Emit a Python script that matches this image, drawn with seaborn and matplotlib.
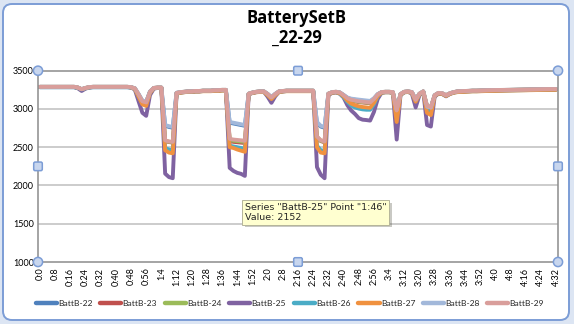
import matplotlib
matplotlib.use("Agg")
import matplotlib.pyplot as plt
import matplotlib.patches as mpatches
import matplotlib.patheffects as pe
from matplotlib.transforms import IdentityTransform
import numpy as np
import pandas as pd
import seaborn as sns

# ---------------- data (2-minute samples, 0:0 .. 4:32) ----------------
minutes = list(range(0, 273, 2))
time_labels = [f"{m // 60}:{m % 60}" for m in minutes]

series_names = ["BattB-22", "BattB-23", "BattB-24", "BattB-25",
                "BattB-26", "BattB-27", "BattB-28", "BattB-29"]

batt_22 = [
    3288, 3288, 3288, 3288, 3288, 3288, 3288, 3288, 3288, 3288,
    3278, 3258, 3273, 3283, 3288, 3288, 3288, 3288, 3288, 3288,
    3288, 3288, 3288, 3288, 3283, 3270, 3192, 3105, 3090, 3226,
    3273, 3278, 3278, 2780, 2765, 2755, 3210, 3218, 3223, 3228,
    3228, 3233, 3233, 3238, 3238, 3238, 3243, 3243, 3248, 3248,
    2820, 2810, 2800, 2790, 2780, 3198, 3213, 3223, 3228, 3228,
    3196, 3152, 3196, 3228, 3233, 3238, 3238, 3238, 3238, 3238,
    3238, 3238, 3238, 2815, 2770, 2755, 3198, 3218, 3223, 3215,
    3182, 3145, 3128, 3120, 3112, 3106, 3100, 3096, 3135, 3192,
    3218, 3223, 3223, 3218, 2980, 3193, 3223, 3228, 3220, 3120,
    3198, 3228, 3025, 3012, 3178, 3208, 3203, 3178, 3203, 3218,
    3228, 3230, 3233, 3235, 3238, 3238, 3240, 3242, 3243, 3244,
    3246, 3247, 3248, 3249, 3250, 3251, 3252, 3253, 3253, 3254,
    3255, 3256, 3256, 3257, 3258, 3258, 3258,
]
batt_23 = [
    3288, 3288, 3288, 3288, 3288, 3288, 3288, 3288, 3288, 3288,
    3278, 3255, 3272, 3283, 3288, 3288, 3288, 3288, 3288, 3288,
    3288, 3288, 3288, 3288, 3283, 3265, 3180, 3090, 3080, 3220,
    3272, 3278, 3278, 2580, 2568, 2560, 3205, 3217, 3222, 3227,
    3227, 3232, 3232, 3237, 3237, 3237, 3242, 3242, 3247, 3247,
    2580, 2570, 2565, 2560, 2555, 3197, 3212, 3222, 3227, 3227,
    3190, 3145, 3190, 3227, 3232, 3237, 3237, 3237, 3237, 3237,
    3237, 3237, 3237, 2630, 2580, 2565, 3197, 3217, 3222, 3212,
    3175, 3135, 3112, 3100, 3090, 3085, 3080, 3078, 3120, 3185,
    3217, 3222, 3222, 3217, 2970, 3190, 3222, 3227, 3217, 3115,
    3197, 3227, 3030, 3015, 3175, 3207, 3202, 3177, 3202, 3217,
    3227, 3229, 3232, 3234, 3237, 3237, 3239, 3241, 3242, 3243,
    3245, 3246, 3247, 3248, 3249, 3250, 3251, 3252, 3252, 3253,
    3254, 3255, 3255, 3256, 3257, 3257, 3257,
]
batt_24 = [
    3289, 3289, 3289, 3289, 3289, 3289, 3289, 3289, 3289, 3289,
    3279, 3257, 3274, 3284, 3289, 3289, 3289, 3289, 3289, 3289,
    3289, 3289, 3289, 3289, 3284, 3268, 3186, 3095, 3082, 3222,
    3274, 3279, 3279, 2585, 2572, 2565, 3208, 3219, 3224, 3229,
    3229, 3234, 3234, 3239, 3239, 3239, 3244, 3244, 3249, 3249,
    2595, 2585, 2580, 2575, 2570, 3199, 3214, 3224, 3229, 3229,
    3193, 3148, 3193, 3229, 3234, 3239, 3239, 3239, 3239, 3239,
    3239, 3239, 3239, 2635, 2585, 2570, 3199, 3219, 3224, 3214,
    3178, 3138, 3116, 3105, 3095, 3090, 3085, 3082, 3125, 3188,
    3219, 3224, 3224, 3219, 2975, 3193, 3224, 3229, 3219, 3118,
    3199, 3229, 3035, 3020, 3178, 3209, 3204, 3179, 3204, 3219,
    3229, 3231, 3234, 3236, 3239, 3239, 3241, 3243, 3244, 3245,
    3247, 3248, 3249, 3250, 3251, 3252, 3253, 3254, 3254, 3255,
    3256, 3257, 3257, 3258, 3259, 3259, 3259,
]
batt_25 = [
    3285, 3285, 3285, 3285, 3285, 3285, 3285, 3285, 3285, 3285,
    3270, 3235, 3265, 3280, 3285, 3285, 3285, 3285, 3285, 3285,
    3285, 3285, 3285, 3285, 3280, 3255, 3100, 2950, 2910, 3180,
    3265, 3275, 3275, 2155, 2110, 2095, 3200, 3215, 3220, 3225,
    3225, 3230, 3230, 3235, 3235, 3235, 3240, 3240, 3245, 3245,
    2230, 2190, 2165, 2152, 2125, 3190, 3210, 3220, 3225, 3225,
    3160, 3080, 3165, 3225, 3230, 3235, 3235, 3235, 3235, 3235,
    3235, 3235, 3235, 2240, 2140, 2095, 3180, 3210, 3215, 3200,
    3150, 3050, 2980, 2935, 2880, 2860, 2855, 2848, 2960, 3130,
    3210, 3220, 3220, 3210, 2600, 3180, 3220, 3225, 3200, 3020,
    3180, 3225, 2790, 2770, 3160, 3200, 3195, 3165, 3195, 3215,
    3225, 3227, 3230, 3232, 3235, 3235, 3237, 3239, 3240, 3241,
    3243, 3244, 3245, 3246, 3247, 3248, 3249, 3250, 3250, 3251,
    3252, 3253, 3253, 3254, 3255, 3255, 3255,
]
batt_26 = [
    3284, 3284, 3284, 3284, 3284, 3284, 3284, 3284, 3284, 3284,
    3276, 3255, 3270, 3280, 3284, 3284, 3284, 3284, 3284, 3284,
    3284, 3284, 3284, 3284, 3280, 3262, 3165, 3075, 3060, 3212,
    3270, 3275, 3275, 2490, 2470, 2460, 3202, 3214, 3220, 3226,
    3226, 3230, 3230, 3234, 3234, 3234, 3238, 3238, 3242, 3242,
    2520, 2510, 2500, 2490, 2480, 3196, 3210, 3220, 3224, 3224,
    3182, 3135, 3182, 3224, 3230, 3234, 3234, 3234, 3234, 3234,
    3234, 3234, 3234, 2520, 2460, 2450, 3192, 3214, 3220, 3200,
    3155, 3095, 3045, 3020, 3005, 2995, 2990, 2990, 3060, 3165,
    3212, 3218, 3218, 3210, 2900, 3185, 3218, 3222, 3210, 3100,
    3190, 3222, 2980, 2960, 3172, 3204, 3198, 3172, 3198, 3214,
    3222, 3224, 3227, 3229, 3232, 3232, 3234, 3236, 3237, 3238,
    3240, 3241, 3242, 3243, 3244, 3245, 3246, 3247, 3247, 3248,
    3249, 3250, 3250, 3251, 3252, 3252, 3252,
]
batt_27 = [
    3288, 3288, 3288, 3288, 3288, 3288, 3288, 3288, 3288, 3288,
    3278, 3258, 3272, 3283, 3288, 3288, 3288, 3288, 3288, 3288,
    3288, 3288, 3288, 3288, 3282, 3262, 3160, 3060, 3040, 3210,
    3270, 3276, 3276, 2460, 2430, 2420, 3200, 3212, 3218, 3224,
    3224, 3228, 3228, 3232, 3232, 3232, 3236, 3236, 3240, 3240,
    2500, 2490, 2470, 2455, 2440, 3195, 3208, 3218, 3222, 3222,
    3180, 3130, 3180, 3222, 3228, 3232, 3232, 3232, 3232, 3232,
    3232, 3232, 3232, 2500, 2430, 2420, 3190, 3212, 3218, 3205,
    3165, 3110, 3070, 3050, 3035, 3025, 3020, 3015, 3080, 3170,
    3212, 3218, 3218, 3210, 2830, 3185, 3218, 3222, 3210, 3095,
    3190, 3222, 2950, 2920, 3170, 3202, 3196, 3170, 3196, 3212,
    3220, 3222, 3225, 3227, 3230, 3230, 3232, 3234, 3235, 3236,
    3238, 3239, 3240, 3241, 3242, 3243, 3244, 3245, 3245, 3246,
    3247, 3248, 3248, 3249, 3250, 3250, 3250,
]
batt_28 = [
    3290, 3290, 3290, 3290, 3290, 3290, 3290, 3290, 3290, 3290,
    3280, 3260, 3275, 3285, 3290, 3290, 3290, 3290, 3290, 3290,
    3290, 3290, 3290, 3290, 3285, 3272, 3195, 3110, 3095, 3228,
    3275, 3280, 3280, 2790, 2775, 2765, 3212, 3220, 3225, 3230,
    3230, 3235, 3235, 3240, 3240, 3240, 3245, 3245, 3250, 3250,
    2830, 2820, 2810, 2800, 2790, 3200, 3215, 3225, 3230, 3230,
    3198, 3155, 3198, 3230, 3235, 3240, 3240, 3240, 3240, 3240,
    3240, 3240, 3240, 2830, 2780, 2765, 3200, 3220, 3225, 3218,
    3185, 3150, 3135, 3128, 3122, 3116, 3110, 3105, 3140, 3195,
    3220, 3225, 3225, 3220, 2990, 3195, 3225, 3230, 3222, 3125,
    3200, 3230, 3030, 3018, 3180, 3210, 3205, 3180, 3205, 3220,
    3230, 3232, 3235, 3237, 3240, 3240, 3242, 3244, 3245, 3246,
    3248, 3249, 3250, 3251, 3252, 3253, 3254, 3255, 3255, 3256,
    3257, 3258, 3258, 3259, 3260, 3260, 3260,
]
batt_29 = [
    3290, 3290, 3290, 3290, 3290, 3290, 3290, 3290, 3290, 3290,
    3280, 3258, 3275, 3285, 3290, 3290, 3290, 3290, 3290, 3290,
    3290, 3290, 3290, 3290, 3285, 3270, 3190, 3100, 3085, 3225,
    3275, 3280, 3280, 2590, 2575, 2570, 3210, 3220, 3225, 3230,
    3230, 3235, 3235, 3240, 3240, 3240, 3245, 3245, 3250, 3250,
    2610, 2600, 2595, 2590, 2585, 3200, 3215, 3225, 3230, 3230,
    3195, 3150, 3195, 3230, 3235, 3240, 3240, 3240, 3240, 3240,
    3240, 3240, 3240, 2640, 2590, 2575, 3200, 3220, 3225, 3215,
    3180, 3140, 3120, 3110, 3100, 3095, 3090, 3085, 3130, 3190,
    3220, 3225, 3225, 3220, 2980, 3195, 3225, 3230, 3220, 3120,
    3200, 3230, 3040, 3025, 3180, 3210, 3205, 3180, 3205, 3220,
    3230, 3232, 3235, 3237, 3240, 3240, 3242, 3244, 3245, 3246,
    3248, 3249, 3250, 3251, 3252, 3253, 3254, 3255, 3255, 3256,
    3257, 3258, 3258, 3259, 3260, 3260, 3260,
]

tick_labels = ["0:0", "0:8", "0:16", "0:24", "0:32", "0:40", "0:48", "0:56",
               "1:4", "1:12", "1:20", "1:28", "1:36", "1:44", "1:52", "2:0",
               "2:8", "2:16", "2:24", "2:32", "2:40", "2:48", "2:56", "3:4",
               "3:12", "3:20", "3:28", "3:36", "3:44", "3:52", "4:0", "4:8",
               "4:16", "4:24", "4:32"]
y_ticks = [1000, 1500, 2000, 2500, 3000, 3500]

colors = ["#4F81BD", "#C0504D", "#9BBB59", "#7F62A1",
          "#4BACC6", "#F0913F", "#A2B8DA", "#D99E9B"]

all_series = [batt_22, batt_23, batt_24, batt_25, batt_26, batt_27, batt_28, batt_29]
rows = []
for name, vals in zip(series_names, all_series):
    for i, (lab, v) in enumerate(zip(time_labels, vals)):
        rows.append({"idx": i, "time": lab, "series": name, "value": v})
df = pd.DataFrame(rows)

# ---------------- figure ----------------
W, H = 574, 324
DPI = 100
sns.set_theme(style="white")
plt.rcParams["font.family"] = ["Lato", "DejaVu Sans"]

fig = plt.figure(figsize=(W / DPI, H / DPI), dpi=DPI)
fig.patch.set_facecolor("#DCE5F3")

# chart frame (rounded, selected)
frame = mpatches.FancyBboxPatch((3, H - 320), 566, 316,
                                boxstyle="round,pad=0,rounding_size=9",
                                transform=IdentityTransform(),
                                facecolor="white", edgecolor="#7C9DD6", lw=1.4,
                                zorder=0)
fig.patches.append(frame)

ax_l, ax_r, ax_t, ax_b = 38, 558, 70.7, 262
ax = fig.add_axes([ax_l / W, 1 - ax_b / H, (ax_r - ax_l) / W, (ax_b - ax_t) / H])
ax.set_facecolor("white")
ax.set_zorder(2)

sns.lineplot(data=df, x="idx", y="value", hue="series", hue_order=series_names,
             palette=colors, estimator=None, sort=False, lw=2.8, ax=ax,
             legend=False)
for ln in ax.lines:
    ln.set_solid_capstyle("round")
    ln.set_solid_joinstyle("round")

n = len(minutes)
ax.set_xlim(-0.5, n - 0.5)
ax.set_ylim(1000, 3500)
ax.set_yticks(y_ticks)
ax.set_yticklabels([str(t) for t in y_ticks], fontsize=6.5)
ax.set_xticks(list(range(0, n, 4)))
ax.set_xticklabels(tick_labels, rotation=90, fontsize=6.5)
ax.tick_params(axis="both", length=0, pad=3, colors="black")
ax.tick_params(axis="x", pad=4)
ax.set_xlabel("")
ax.set_ylabel("")
ax.grid(False)
for yv in y_ticks[1:-1]:
    ax.axhline(yv, color="#C4C4C4", lw=1.2, zorder=0)
for side in ["left", "bottom", "top", "right"]:
    ax.spines[side].set_visible(True)
    ax.spines[side].set_color("#8C8C8C")
    ax.spines[side].set_linewidth(1.1)

# selection handles
def circle_handle(x, y):
    c = mpatches.Circle((x, H - y), 4.6, transform=IdentityTransform(),
                        facecolor="#C8D6EE", edgecolor="#7C9DD6", lw=1.1, zorder=10)
    fig.patches.append(c)

def square_handle(x, y):
    s = mpatches.FancyBboxPatch((x - 4.3, H - y - 4.3), 8.6, 8.6,
                                boxstyle="round,pad=0,rounding_size=1.5",
                                transform=IdentityTransform(),
                                facecolor="#C8D6EE", edgecolor="#7C9DD6", lw=1.1, zorder=10)
    fig.patches.append(s)

for (x, y) in [(ax_l, ax_t), (ax_r, ax_t), (ax_l, ax_b), (ax_r, ax_b)]:
    circle_handle(x, y)
mid_x = (ax_l + ax_r) / 2
mid_y = (ax_t + ax_b) / 2
for (x, y) in [(mid_x, ax_t), (mid_x, ax_b), (ax_l, mid_y), (ax_r, mid_y)]:
    square_handle(x, y)

# title
title_font = ["Open Sans", "DejaVu Sans"]
fig.text(297 / W, 1 - 18 / H, "BatterySetB", ha="center", va="center",
         fontsize=12, fontweight="bold", family=title_font, color="black")
fig.text(297 / W, 1 - 38 / H, "_22-29", ha="center", va="center",
         fontsize=12, fontweight="bold", family=title_font, color="black")

# legend
handles = [plt.Line2D([], [], color=c, lw=3.2, solid_capstyle="round") for c in colors]
fig.legend(handles, series_names, loc="center", bbox_to_anchor=(290 / W, 1 - 303 / H),
           ncol=8, frameon=False, fontsize=6.1, handlelength=2.5, handletextpad=0.15,
           columnspacing=0.9, borderpad=0)

# tooltip
tip = fig.text(245 / W, 1 - 212.5 / H, 'Series "BattB-25" Point "1:46"\nValue: 2152',
               ha="left", va="center", fontsize=6.8, family=["DejaVu Sans"],
               linespacing=1.1, zorder=20,
               bbox=dict(boxstyle="square,pad=0.3", fc="#FFFFD0", ec="#B5B59A", lw=0.7))
tip.get_bbox_patch().set_path_effects([pe.withSimplePatchShadow(offset=(2, -2), alpha=0.3)])

fig.savefig("out.png", dpi=DPI, facecolor=fig.get_facecolor())
